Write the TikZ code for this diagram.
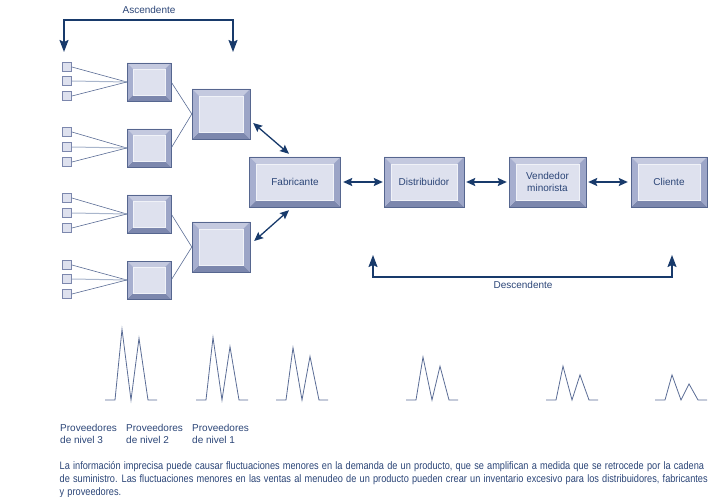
\documentclass[tikz,border=0pt]{standalone}
\usepackage{fontspec}
\setmainfont{Liberation Sans}
\newfontfamily\capfont[FakeStretch=0.852]{Liberation Sans}
\usetikzlibrary{arrows.meta,calc}
\definecolor{edgec}{HTML}{56668F}
\definecolor{facec}{HTML}{DEE1EE}
\definecolor{btop}{HTML}{C4C9DF}
\definecolor{bleft}{HTML}{A7AFCF}
\definecolor{bright}{HTML}{9CA5C7}
\definecolor{bbot}{HTML}{7C87AD}
\definecolor{innerc}{HTML}{F0F2F8}
\definecolor{navy}{HTML}{183A6B}
\definecolor{txt}{HTML}{2B4577}
\definecolor{linec}{HTML}{5A6C95}
\definecolor{lightline}{HTML}{A9B6CC}
\newcommand\bvw{\pgfkeysvalueof{/tikz/bevel width}}
\tikzset{
  bevel width/.initial=6pt,
  bevelbox/.style={fill=facec, inner sep=0pt, text=txt, align=center,
    font=\fontsize{10}{11.5}\selectfont,
    path picture={
      \def\ppb{path picture bounding box}
      \fill[btop] (\ppb.north west) -- (\ppb.north east) -- ([xshift=-\bvw,yshift=-\bvw]\ppb.north east) -- ([xshift=\bvw,yshift=-\bvw]\ppb.north west) -- cycle;
      \fill[bbot] (\ppb.south west) -- (\ppb.south east) -- ([xshift=-\bvw,yshift=\bvw]\ppb.south east) -- ([xshift=\bvw,yshift=\bvw]\ppb.south west) -- cycle;
      \fill[bleft] (\ppb.north west) -- (\ppb.south west) -- ([xshift=\bvw,yshift=\bvw]\ppb.south west) -- ([xshift=\bvw,yshift=-\bvw]\ppb.north west) -- cycle;
      \fill[bright] (\ppb.north east) -- (\ppb.south east) -- ([xshift=-\bvw,yshift=\bvw]\ppb.south east) -- ([xshift=-\bvw,yshift=-\bvw]\ppb.north east) -- cycle;
      \draw[innerc, line width=0.6pt, fill=facec] ([xshift=\bvw,yshift=-\bvw]\ppb.north west) rectangle ([xshift=-\bvw,yshift=\bvw]\ppb.south east);
    },
    postaction={draw=edgec, line width=0.9pt}},
  sq/.style={draw=bbot, line width=1.3pt, fill=facec, minimum size=8.5pt, inner sep=0pt},
  feed/.style={draw=linec, line width=0.6pt},
  feedmid/.style={draw=lightline, line width=1pt},
  tie/.style={draw=linec, line width=0.6pt},
  dbl/.style={draw=navy, line width=1.5pt, {Stealth[length=9pt,width=8pt,inset=1.5pt]}-{Stealth[length=9pt,width=8pt,inset=1.5pt]}},
  brk/.style={draw=navy, line width=1.6pt, {Stealth[length=12pt,width=9pt,inset=2pt]}-{Stealth[length=12pt,width=9pt,inset=2pt]}},
  lbl/.style={text=txt, font=\fontsize{10}{12}\selectfont, inner sep=0pt},
  caption/.style={text=txt, font=\capfont\fontsize{10.8}{12}\selectfont, inner sep=0pt, anchor=base west},
  peakline/.style={draw=linec, line width=0.8pt},
  pics/spike/.style 2 args={code={\draw[peakline] (0,0) -- (10,0) -- (17,-#1) -- (26,0) -- (34,-#2) -- (43,0) -- (52,0);}}
}
\begin{document}
\begin{tikzpicture}[x=1pt,y=-1pt]
\useasboundingbox (0,0) rectangle (728,497);

% level 2 boxes
\node[bevelbox, minimum width=44pt, minimum height=38pt] (t1) at (149,82) {};
\node[bevelbox, minimum width=44pt, minimum height=38pt] (t2) at (149,148) {};
\node[bevelbox, minimum width=44pt, minimum height=38pt] (t3) at (149,214) {};
\node[bevelbox, minimum width=44pt, minimum height=38pt] (t4) at (149,280) {};
% level 1 boxes
\node[bevelbox, bevel width=7pt, minimum width=58pt, minimum height=50pt] (m1) at (221,114) {};
\node[bevelbox, bevel width=7pt, minimum width=58pt, minimum height=50pt] (m2) at (221,247) {};
% main chain
\node[bevelbox, bevel width=7pt, minimum width=91pt, minimum height=50pt] (fab) at (295,182) {Fabricante};
\node[bevelbox, bevel width=7pt, minimum width=80pt, minimum height=50pt] (dist) at (424,182) {Distribuidor};
\node[bevelbox, bevel width=7pt, minimum width=77pt, minimum height=50pt] (vend) at (547.5,182) {Vendedor\\minorista};
\node[bevelbox, bevel width=7pt, minimum width=76pt, minimum height=50pt] (cli) at (669,182) {Cliente};

% level 3 suppliers
\foreach \g/\a/\b/\c in {1/67/81/96, 2/132/147/162, 3/198/213/228, 4/265/279/294} {
  \node[sq] (s\g-1) at (67,\a) {};
  \node[sq] (s\g-2) at (67,\b) {};
  \node[sq] (s\g-3) at (67,\c) {};
  \draw[feed] (s\g-1.east) -- (t\g.west);
  \draw[feedmid] (s\g-2.east) -- (t\g.west);
  \draw[feed] (s\g-3.east) -- (t\g.west);
}
\draw[tie] (t1.east) -- (m1.west);
\draw[tie] (t2.east) -- (m1.west);
\draw[tie] (t3.east) -- (m2.west);
\draw[tie] (t4.east) -- (m2.west);

% arrows
\draw[dbl, line width=1.3pt] ($(m1.east)+(3,9)$) -- ($(fab.north)+(-6,-3)$);
\draw[dbl, line width=1.3pt] ($(m2.east)+(4,-6)$) -- ($(fab.south)+(-6,3)$);
\draw[dbl, shorten <=2.5pt, shorten >=1pt] (fab) -- (dist);
\draw[dbl, shorten <=2pt, shorten >=2pt] (dist) -- (vend);
\draw[dbl, shorten <=2pt, shorten >=3pt] (vend) -- (cli);

% brackets
\node[lbl] (asc) at (149,9.5) {Ascendente};
\coordinate (ascL) at (64,52);
\coordinate (ascR) at (233,52);
\draw[brk] (ascL) -- ++(0,-32) -| (ascR);
\node[lbl] (desc) at (523,285) {Descendente};
\coordinate (dL) at (373,255);
\coordinate (dR) at (672,255);
\draw[brk] (dL) -- ++(0,22) -| (dR);

% demand fluctuations
\pic at (105,400) {spike={70.7}{61.7}};
\pic at (196,400) {spike={62.5}{53.3}};
\pic at (276,400) {spike={52.3}{43.6}};
\pic at (406,400) {spike={42.9}{33.8}};
\pic at (546,400) {spike={33.8}{25.1}};
\pic at (655,400) {spike={25.1}{16.1}};

% labels
\node[lbl, anchor=north west, align=left] (p3) at (60,424.5) {Proveedores\\de nivel 3};
\node[lbl, anchor=north west, align=left] (p2) at (126,424.5) {Proveedores\\de nivel 2};
\node[lbl, anchor=north west, align=left] (p1) at (192,424.5) {Proveedores\\de nivel 1};

% caption
\node[caption] (cap1) at (59.5,469) {\spaceskip=3.2pt\relax La información imprecisa puede causar fluctuaciones menores en la demanda de un producto, que se amplifican a medida que se retrocede por la cadena};
\node[caption] (cap2) at (59.5,482) {\spaceskip=3.2pt\relax de suministro. Las fluctuaciones menores en las ventas al menudeo de un producto pueden crear un inventario excesivo para los distribuidores, fabricantes};
\node[caption] (cap3) at (59.5,495) {\spaceskip=3.2pt\relax y proveedores.};
\end{tikzpicture}
\end{document}
